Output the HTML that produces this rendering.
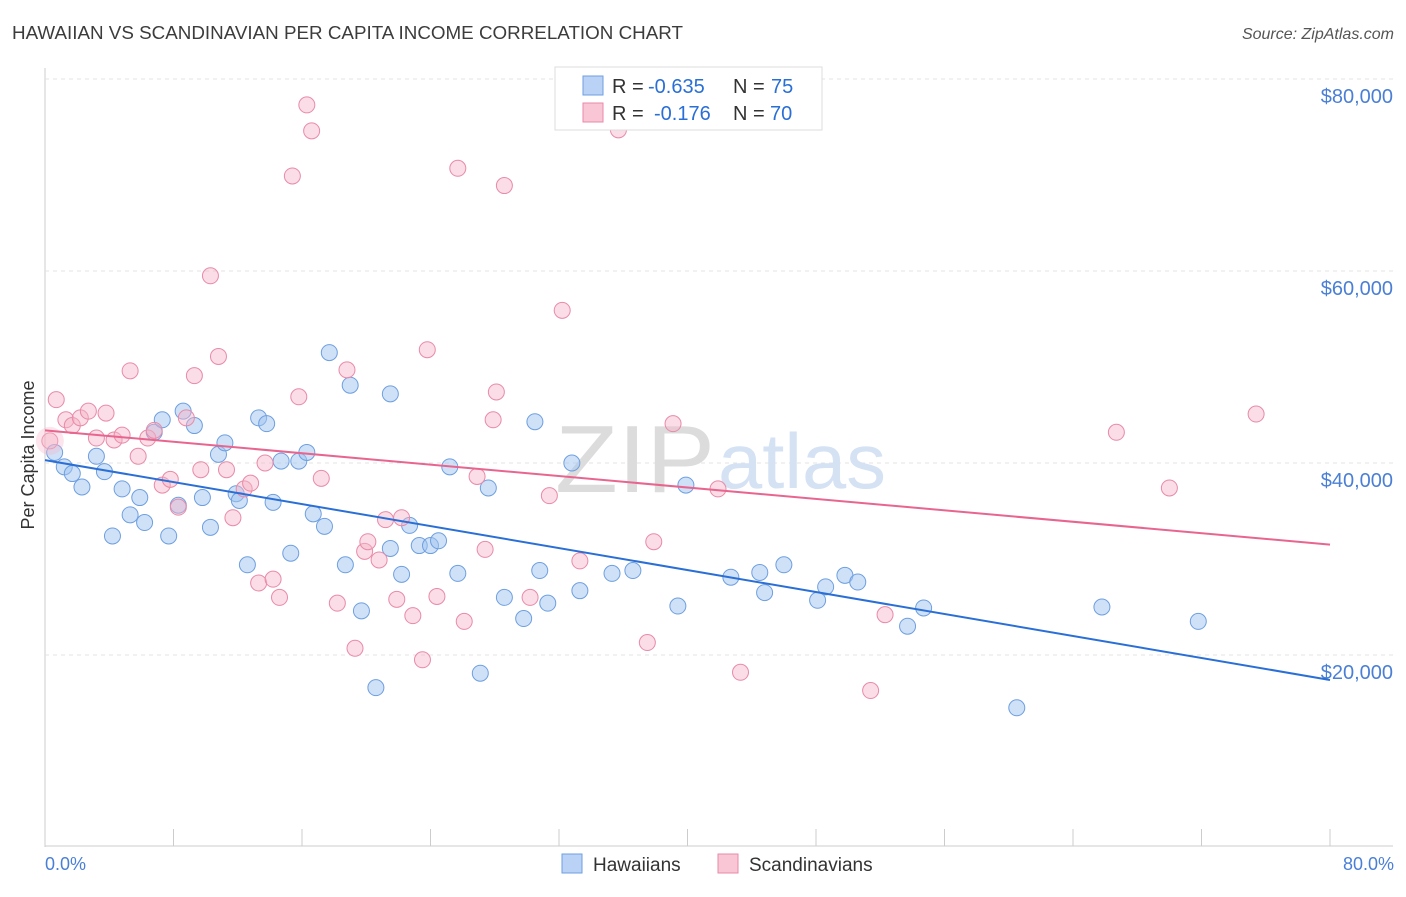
<!DOCTYPE html>
<html><head><meta charset="utf-8"><style>
body{margin:0;background:#fff;font-family:"Liberation Sans",sans-serif;}
svg text{font-family:"Liberation Sans",sans-serif;}
</style></head><body>
<svg id="chart" width="1406" height="892" xmlns="http://www.w3.org/2000/svg">
<text x="12" y="39" font-size="18" fill="#3c3c3c" textLength="671" lengthAdjust="spacingAndGlyphs">HAWAIIAN VS SCANDINAVIAN PER CAPITA INCOME CORRELATION CHART</text>
<text x="1394" y="39" font-size="16" fill="#555" text-anchor="end" font-style="italic">Source: ZipAtlas.com</text>
<g id="grid"></g>
<text x="555" y="492" font-size="96" fill="#dcdcdc" font-family="Liberation Serif" textLength="160" lengthAdjust="spacingAndGlyphs">ZIP</text>
<text x="718" y="488" font-size="78" fill="#d4e2f4" textLength="168" lengthAdjust="spacingAndGlyphs">atlas</text>
<g id="points"></g>
<g id="lines"></g>
<text transform="translate(34,455) rotate(-90)" font-size="18" fill="#333" text-anchor="middle">Per Capita Income</text>
<text x="45" y="870" font-size="18" fill="#4a7fd6">0.0%</text>
<text x="1394" y="870" font-size="18" fill="#4a7fd6" text-anchor="end">80.0%</text>
<g>
<rect x="555" y="67" width="267" height="63" fill="#fff" stroke="#ddd"/>
<rect x="583" y="76" width="20" height="19" fill="#b9d2f5" stroke="#6e9fe0"/>
<text x="612" y="93" font-size="20" fill="#333">R =</text>
<text x="648" y="93" font-size="20" fill="#2a6fd6">-0.635</text>
<text x="733" y="93" font-size="20" fill="#333">N =</text>
<text x="771" y="93" font-size="20" fill="#2a6fd6">75</text>
<rect x="583" y="103" width="20" height="19" fill="#f8c6d4" stroke="#e98aa8"/>
<text x="612" y="120" font-size="20" fill="#333">R =</text>
<text x="654" y="120" font-size="20" fill="#2a6fd6">-0.176</text>
<text x="733" y="120" font-size="20" fill="#333">N =</text>
<text x="770" y="120" font-size="20" fill="#2a6fd6">70</text>
</g>
<g>
<rect x="562" y="854" width="20" height="19" fill="#b9d2f5" stroke="#6e9fe0"/>
<text x="593" y="871" font-size="19" fill="#333">Hawaiians</text>
<rect x="718" y="854" width="20" height="19" fill="#f8c6d4" stroke="#e98aa8"/>
<text x="749" y="871" font-size="19" fill="#333">Scandinavians</text>
</g>
</svg>
<script>
const yTicks=[20000,40000,60000,80000];
const yTickLabels=["$20,000","$40,000","$60,000","$80,000"];
const xTicks=[0,8,16,24,32,40,48,56,64,72,80];
const hawX=[0.6,1.2,1.7,2.3,3.2,3.7,4.2,4.8,5.3,5.9,6.2,6.8,7.3,7.7,8.3,8.6,9.3,9.8,10.3,10.8,11.2,11.9,12.1,12.6,13.3,13.8,14.2,14.7,15.3,15.8,16.3,16.7,17.4,17.7,18.7,19.0,19.7,20.6,21.5,21.5,22.2,22.7,23.3,24.0,24.5,25.2,25.7,27.1,27.6,28.6,29.8,30.5,30.8,31.3,32.8,33.3,35.3,36.6,39.4,39.9,42.7,44.5,44.8,46.0,48.1,48.6,49.8,50.6,53.7,54.7,60.5,65.8,71.8];
const hawY=[41.1,39.6,38.9,37.5,40.7,39.1,32.4,37.3,34.6,36.4,33.8,43.2,44.5,32.4,35.6,45.4,43.9,36.4,33.3,40.9,42.1,36.8,36.1,29.4,44.7,44.1,35.9,40.2,30.6,40.2,41.1,34.7,33.4,51.5,29.4,48.1,24.6,16.6,47.2,31.1,28.4,33.5,31.4,31.4,31.9,39.6,28.5,18.1,37.4,26.0,23.8,44.3,28.8,25.4,40.0,26.7,28.5,28.8,25.1,37.7,28.1,28.6,26.5,29.4,25.7,27.1,28.3,27.6,23.0,24.9,14.5,25.0,23.5];
const scaX=[0.3,0.7,1.3,1.7,2.2,2.7,3.2,3.8,4.3,4.8,5.3,5.8,6.4,6.8,7.3,7.8,8.3,8.8,9.3,9.7,10.3,10.8,11.3,11.7,12.4,12.8,13.3,13.7,14.2,14.6,15.4,15.8,16.3,16.6,17.2,18.2,18.8,19.3,19.9,20.1,20.8,21.2,21.9,22.2,22.9,23.5,23.8,24.4,25.7,26.1,26.9,27.4,27.9,28.1,28.6,30.2,31.4,32.2,33.3,35.7,37.5,37.9,39.1,41.9,43.3,51.4,52.3,66.7,70.0,75.4];
const scaY=[42.3,46.6,44.5,43.9,44.7,45.4,42.6,45.2,42.4,42.9,49.6,40.7,42.6,43.4,37.7,38.3,35.4,44.7,49.1,39.3,59.5,51.1,39.3,34.3,37.3,37.9,27.5,40.0,27.9,26.0,69.9,46.9,77.3,74.6,38.4,25.4,49.7,20.7,30.8,31.8,29.9,34.1,25.8,34.3,24.1,19.5,51.8,26.1,70.7,23.5,38.6,31.0,44.5,47.4,68.9,26.0,36.6,55.9,29.8,74.7,21.3,31.8,44.1,37.3,18.2,16.3,24.2,43.2,37.4,45.1];
const hawTrend=[40.3,17.4];
const scaTrend=[43.4,31.5];
const NS="http://www.w3.org/2000/svg";
const X0=45,X1=1330,YB=847,PXK=9.6;
function sx(v){return X0+(v/80)*(X1-X0);}
function sy(k){return YB-k*PXK;}
function mk(t,a,p){const e=document.createElementNS(NS,t);for(const k in a)e.setAttribute(k,a[k]);p.appendChild(e);return e;}
const grid=document.getElementById('grid');
const ax=mk('line',{x1:45,y1:68,x2:45,y2:847,stroke:'#ccc'},grid);


const bx=mk('line',{x1:45,y1:846,x2:1393,y2:846,stroke:'#ccc'},grid);


yTicks.forEach((t,i)=>{const y=sy(t/1000);
const g=mk('line',{x1:45,y1:y,x2:1393,y2:y,stroke:'#e3e3e3','stroke-dasharray':'4,4'},grid);


const tx=mk('text',{x:1393,y:y+24,'font-size':20,fill:'#4a7fd6','text-anchor':'end'},grid);tx.textContent=yTickLabels[i];

});
xTicks.forEach(t=>{const x=sx(t);const l=mk('line',{x1:x,y1:829,x2:x,y2:846,stroke:'#ccc'},grid);

});
const pts=document.getElementById('points');
hawX.forEach((v,i)=>{const c=mk('circle',{cx:sx(v),cy:sy(hawY[i]),r:8,fill:'rgba(160,195,240,0.5)',stroke:'#6e9fe0','stroke-width':1},pts);

});
scaX.forEach((v,i)=>{const c=mk('circle',{cx:sx(v),cy:sy(scaY[i]),r:8,fill:'rgba(245,180,200,0.45)',stroke:'#e98aa8','stroke-width':1},pts);

});
const big=mk('circle',{cx:sx(0.3),cy:sy(42.3),r:14,fill:'rgba(245,180,200,0.35)',stroke:'none'},pts);


const ln=document.getElementById('lines');
const l1=mk('line',{x1:sx(0),y1:sy(hawTrend[0]),x2:sx(80),y2:sy(hawTrend[1]),stroke:'#2a6fd6','stroke-width':2},ln);


const l2=mk('line',{x1:sx(0),y1:sy(scaTrend[0]),x2:sx(80),y2:sy(scaTrend[1]),stroke:'#e8658f','stroke-width':2},ln);


</script>
</body></html>
